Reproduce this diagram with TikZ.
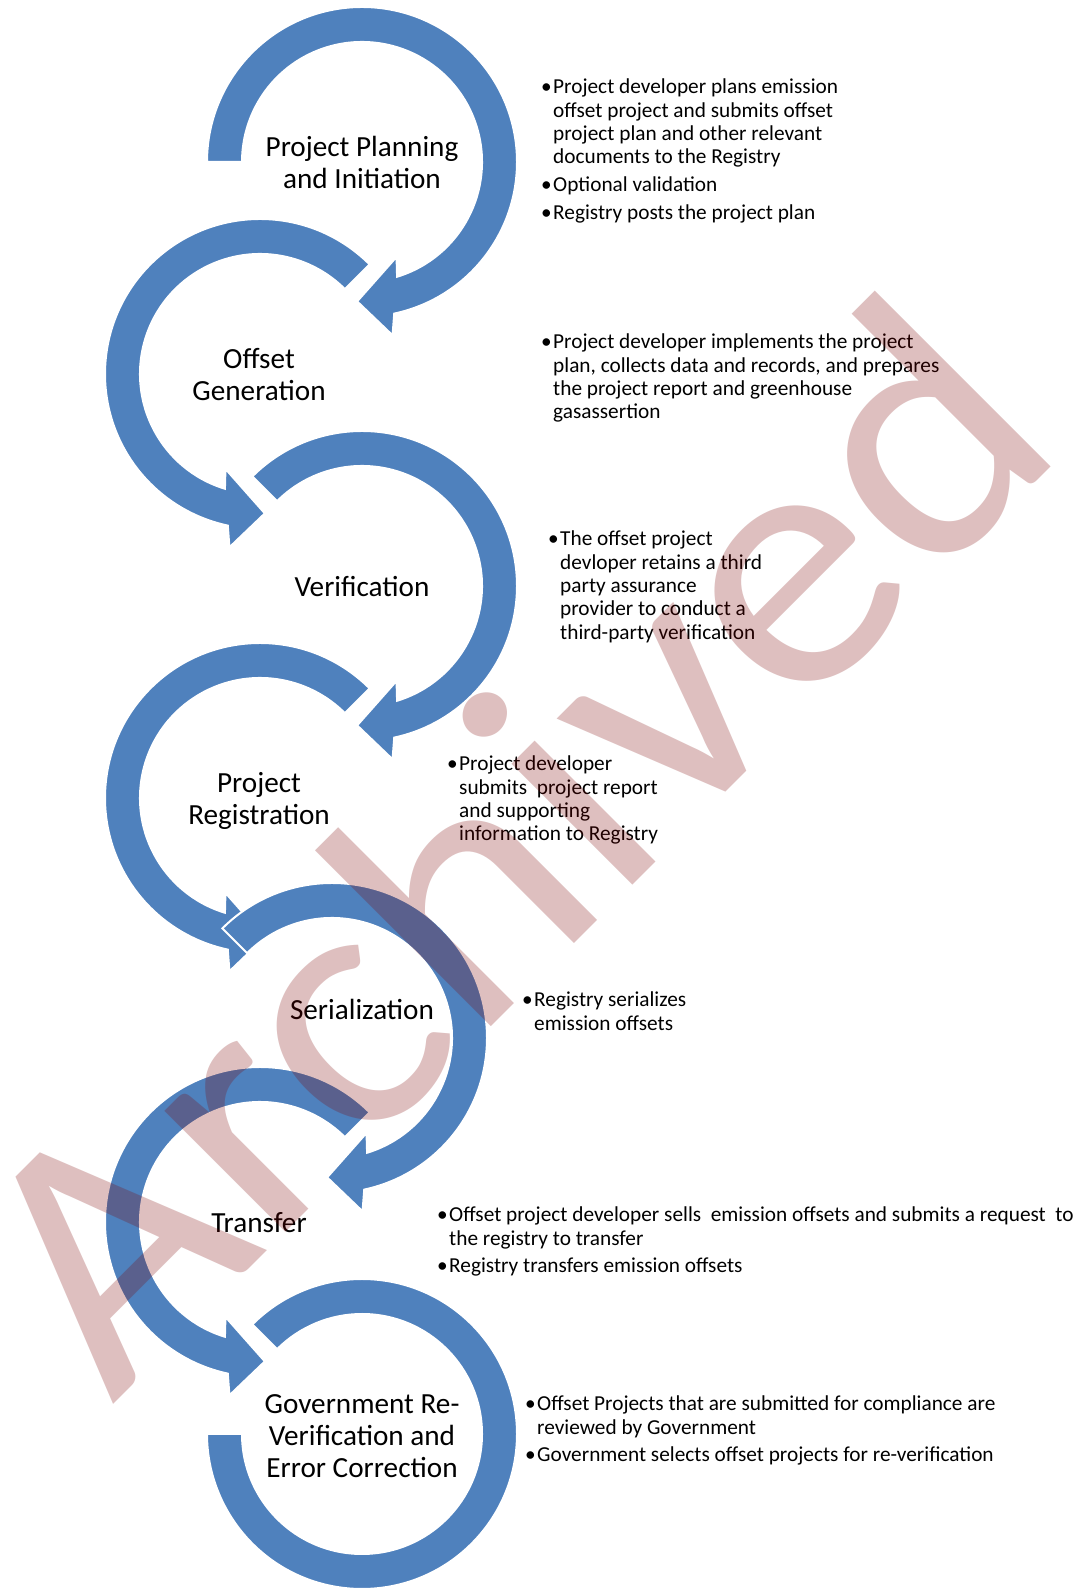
\documentclass[tikz,border=0pt]{standalone}
\usepackage{fontspec}
\setmainfont{Carlito}
\definecolor{arrowblue}{RGB}{79,129,189}
\definecolor{markred}{RGB}{124,0,0}
\tikzset{
  x=1bp, y=1bp,
  circarrow/.style={fill=arrowblue, draw=white, line width=2bp, line join=miter},
  steplabel/.style={inner sep=0pt, anchor=base, font=\fontsize{29.2bp}{31.7bp}\selectfont},
  notes/.style={inner sep=0pt, anchor=base west, font=\fontsize{21.3bp}{23.3bp}\selectfont},
  watermark/.style={inner sep=0pt, anchor=base, transform shape, rotate=45, yscale=0.94,
    text=markred, text opacity=0.25, font=\fontsize{381bp}{400bp}\selectfont}
}
% clockwise ring arrow: centre x, centre y, start angle
\newcommand{\CwArrow}[3]{%
  \begin{scope}[shift={(#1,#2)}]
    \path[circarrow] (#3:155) arc[start angle=#3, end angle=-78, radius=155]
      -- (-80:176) -- (-92:139.5) -- (-70:101) -- (-73:120)
      arc[start angle=-73, end angle=#3, radius=120] -- cycle;
  \end{scope}}
% counter-clockwise ring arrow: centre x, centre y
\newcommand{\CcwArrow}[2]{%
  \begin{scope}[shift={(#1,#2)}]
    \path[circarrow] (45:155) arc[start angle=45, end angle=258, radius=155]
      -- (260:176) -- (272:139.5) -- (250:101) -- (253:120)
      arc[start angle=253, end angle=45, radius=120] -- cycle;
  \end{scope}}
\newcommand{\NoteItem}{\par\noindent\llap{\textbullet\hspace{1.5bp}}}
\newcommand{\NoteBox}[1]{\parbox[t]{640bp}{\raggedright\setlength{\parskip}{4.4bp}#1}}
\newcommand{\StepText}[1]{\begin{tabular}[t]{@{}c@{}}#1\end{tabular}}

\begin{document}
\begin{tikzpicture}
  \fill[white] (0,0) rectangle (1085,1589);
  \useasboundingbox (0,0) rectangle (1085,1589);

  % the chain of ring arrows
  \CwArrow{362}{1427}{180}
  \CcwArrow{260}{1215}
  \CwArrow{362}{1003}{135}
  \CcwArrow{260}{791}
  \CwArrow{332}{551}{135}
  \CcwArrow{260}{367}
  \begin{scope}[shift={(362,155)}]
    \path[circarrow] (135:155) arc[start angle=135, end angle=-180, radius=155]
      -- (180:120) arc[start angle=-180, end angle=135, radius=120] -- cycle;
  \end{scope}

  % step names
  \node[steplabel] (s1) at (362,1432) {\StepText{Project Planning\\and Initiation}};
  \node[steplabel] (s2) at (259,1220) {\StepText{Offset\\Generation}};
  \node[steplabel] (s3) at (362,992) {\StepText{Verification}};
  \node[steplabel] (s4) at (259,796) {\StepText{Project\\Registration}};
  \node[steplabel] (s5) at (362,569) {\StepText{Serialization}};
  \node[steplabel] (s6) at (259,356) {\StepText{Transfer}};
  \node[steplabel] (s7) at (362,175) {\StepText{Government Re-\\Verification and\\Error Correction}};

  % notes beside each step
  \node[notes] (n1) at (553,1495) {\NoteBox{%
    \NoteItem Project developer plans emission\newline offset project and submits offset\newline project plan and other relevant\newline documents to the Registry
    \NoteItem Optional validation
    \NoteItem Registry posts the project plan}};
  \node[notes] (n2) at (553,1240) {\NoteBox{%
    \NoteItem Project developer implements the project\newline plan, collects data and records, and prepares\newline the project report and greenhouse\newline gasassertion}};
  \node[notes] (n3) at (560,1043) {\NoteBox{%
    \NoteItem The offset project\newline devloper retains a third\newline party assurance\newline provider to conduct a\newline third-party verification}};
  \node[notes] (n4) at (459,818) {\NoteBox{%
    \NoteItem Project developer\newline submits\ \ project report\newline and supporting\newline information to Registry}};
  \node[notes] (n5) at (534,582) {\NoteBox{%
    \NoteItem Registry serializes\newline emission offsets}};
  \node[notes] (n6) at (449,367) {\NoteBox{%
    \NoteItem Offset project developer sells\ \ emission offsets and submits a request\ \ to\newline the registry to transfer
    \NoteItem Registry transfers emission offsets}};
  \node[notes] (n7) at (537,178) {\NoteBox{%
    \NoteItem Offset Projects that are submitted for compliance are\newline reviewed by Government
    \NoteItem Government selects offset projects for re-verification}};

  % archive stamp across the page
  \node[watermark] (mark) at (591,662) {Archived};
\end{tikzpicture}
\end{document}
